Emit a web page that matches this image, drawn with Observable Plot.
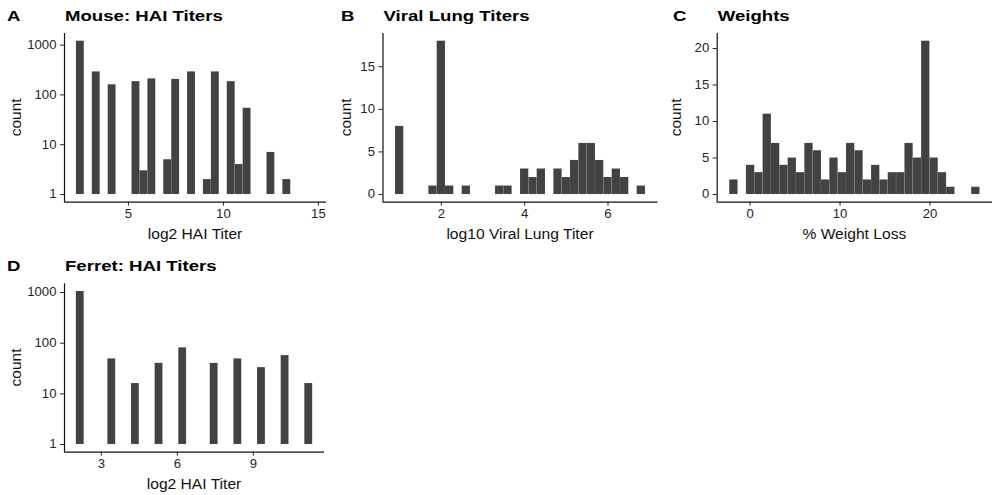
<!DOCTYPE html>
<html>
<head>
<meta charset="utf-8">
<script src="https://cdn.jsdelivr.net/npm/d3@7"></script>
<script src="https://cdn.jsdelivr.net/npm/@observablehq/plot@0.6"></script>
<style>
  body { margin: 0; background: #fff; }
  #fig { position: relative; width: 997px; height: 495px; overflow: hidden;
         font-family: "Liberation Sans", Arial, Helvetica, sans-serif; }
  .panel { position: absolute; }
  #overlay { position: absolute; left: 0; top: 0; pointer-events: none; }
</style>
</head>
<body>
<div id="fig"></div>
<script>
// ---------------- data ----------------
const nBins = 30;

// A: Mouse HAI titers (log2), histogram on a log10 count axis
const mouseBinStart = 2.26;
const mouseBinWidth = 0.418;
const mouseBins   = [0, 2, 4, 7, 8, 9, 11, 12, 14, 16, 17, 19, 20, 21, 24, 26];
const mouseCounts = [1200, 290, 160, 185, 3, 210, 5, 205, 290, 2, 290, 185, 4, 54, 7, 2];
const mouseXTicks = [5, 10, 15];

// B: Viral lung titers (log10)
const lungBinStart = 0.9;
const lungBinWidth = 0.2;
const lungBins   = [0, 4, 5, 6, 8, 12, 13, 15, 16, 17, 19, 20, 21, 22, 23, 24, 25, 26, 27, 29];
const lungCounts = [8, 1, 18, 1, 1, 1, 1, 3, 2, 3, 3, 2, 4, 6, 6, 4, 2, 3, 2, 1];
const lungXTicks = [2, 4, 6];
const lungYTicks = [0, 5, 10, 15];

// C: % weight loss
const weightBinStart = -2.259;
const weightBinWidth = 0.927;
const weightBins   = d3.range(30);
const weightCounts = [2, 0, 4, 3, 11, 7, 4, 5, 3, 7, 6, 2, 5, 3, 7, 6, 2, 4, 2, 3, 3, 7, 5, 21, 5, 3, 1, 0, 0, 1];
const weightXTicks = [0, 10, 20];
const weightYTicks = [0, 5, 10, 15, 20];

// D: Ferret HAI titers (log2), log10 count axis
const ferretBinStart = 2.013;
const ferretBinWidth = 0.311;
const ferretBins   = [0, 4, 7, 10, 13, 17, 20, 23, 26, 29];
const ferretCounts = [1050, 49, 16, 40, 81, 40, 49, 33, 57, 16];
const ferretXTicks = [3, 6, 9];

const logYTicks = [1, 10, 100, 1000];

const panelLetters = ["A", "B", "C", "D"];
const panelTitles  = ["Mouse: HAI Titers", "Viral Lung Titers", "Weights", "Ferret: HAI Titers"];
const xTitles      = ["log2 HAI Titer", "log10 Viral Lung Titer", "% Weight Loss", "log2 HAI Titer"];
const yTitle       = "count";

// ---------------- layout ----------------
const FONT = '"Liberation Sans", Arial, Helvetica, sans-serif';
const SX_TITLE = 1.2;      // horizontal stretch of the reference's lettering
const SX_TICK = 1.08;
const barFill = "#424242";
const inkColor = "#262626";

const boxes = [
  {ox: 0,   oy: 0,   w: 330, h: 250, fx0: 64,    fx1: 326,   fy0: 33,   fy1: 201.7},
  {ox: 330, oy: 0,   w: 330, h: 250, fx0: 382.5, fx1: 657.5, fy0: 33,   fy1: 201.7},
  {ox: 660, oy: 0,   w: 337, h: 250, fx0: 716.7, fx1: 992,   fy0: 33,   fy1: 201.7},
  {ox: 0,   oy: 250, w: 330, h: 245, fx0: 64,    fx1: 324,   fy0: 283.3, fy1: 451.7}
];

const panels = [
  {bins: mouseBins,  counts: mouseCounts,  start: mouseBinStart,  bw: mouseBinWidth,  log: true,  xTicks: mouseXTicks,  yTicks: logYTicks},
  {bins: lungBins,   counts: lungCounts,   start: lungBinStart,   bw: lungBinWidth,   log: false, xTicks: lungXTicks,   yTicks: lungYTicks},
  {bins: weightBins, counts: weightCounts, start: weightBinStart, bw: weightBinWidth, log: false, xTicks: weightXTicks, yTicks: weightYTicks},
  {bins: ferretBins, counts: ferretCounts, start: ferretBinStart, bw: ferretBinWidth, log: true,  xTicks: ferretXTicks, yTicks: logYTicks}
];

const fig = document.getElementById("fig");

function histPanel(p, box) {
  const data = p.bins.map((b, i) => ({
    x1: p.start + b * p.bw,
    x2: p.start + (b + 1) * p.bw,
    count: p.counts[i]
  })).filter(d => d.count > 0);
  const xlo = p.start, xhi = p.start + nBins * p.bw, xpad = 0.05 * (xhi - xlo);
  const xDomain = [xlo - xpad, xhi + xpad];
  const maxC = d3.max(p.counts);
  const base = p.log ? 1 : 0;
  const yDomain = p.log ? [Math.pow(maxC, -0.05), Math.pow(maxC, 1.05)] : [-0.05 * maxC, 1.05 * maxC];

  return Plot.plot({
    width: box.w,
    height: box.h,
    marginLeft: box.fx0 - box.ox,
    marginRight: box.ox + box.w - box.fx1,
    marginTop: box.fy0 - box.oy,
    marginBottom: box.oy + box.h - box.fy1,
    x: {domain: xDomain},
    y: {type: p.log ? "log" : "linear", domain: yDomain},
    style: {fontFamily: FONT, fontSize: "12.2px", color: inkColor, background: "transparent", overflow: "visible"},
    marks: [
      Plot.rect(data, {x1: "x1", x2: "x2", y1: () => base, y2: "count",
                       fill: barFill, stroke: "#ffffff", strokeOpacity: 0.15, strokeWidth: 0.5}),
      Plot.axisX({ticks: p.xTicks, tickSize: 4, tickPadding: 3.5, label: null, tickFormat: d => String(d)}),
      Plot.axisY({ticks: p.yTicks, tickSize: 4, tickPadding: 4, label: null, tickFormat: d => String(d)}),
      Plot.ruleY([yDomain[0]], {stroke: "#111", strokeWidth: 1.2}),
      Plot.ruleX([xDomain[0]], {stroke: "#111", strokeWidth: 1.2})
    ]
  });
}

function stretch(el, sx) {
  const L = el.getComputedTextLength();
  if (L > 0) {
    el.setAttribute("textLength", (L * sx).toFixed(2));
    el.setAttribute("lengthAdjust", "spacingAndGlyphs");
  }
}

panels.forEach((p, i) => {
  const box = boxes[i];
  const holder = document.createElement("div");
  holder.className = "panel";
  holder.style.left = box.ox + "px";
  holder.style.top = box.oy + "px";
  const svg = histPanel(p, box);
  holder.appendChild(svg);
  fig.appendChild(holder);
  svg.querySelectorAll("text").forEach(t => stretch(t, SX_TICK));
});

// ---------------- titles & axis titles ----------------
const overlay = d3.select(fig).append("svg")
  .attr("id", "overlay")
  .attr("width", 997).attr("height", 495)
  .style("font-family", FONT);

const letterX = [7, 341, 673, 7];
boxes.forEach((box, i) => {
  const ty = box.oy + 21;
  const l = overlay.append("text").attr("x", letterX[i]).attr("y", ty)
    .attr("font-size", 15.5).attr("font-weight", "bold").attr("fill", "#000").text(panelLetters[i]);
  const t = overlay.append("text").attr("x", box.fx0 + 1).attr("y", ty)
    .attr("font-size", 15.5).attr("font-weight", "bold").attr("fill", "#000").text(panelTitles[i]);
  stretch(l.node(), SX_TITLE);
  stretch(t.node(), SX_TITLE);

  const xt = overlay.append("text")
    .attr("x", (box.fx0 + box.fx1) / 2).attr("y", box.fy1 + 37.5)
    .attr("text-anchor", "middle").attr("font-size", 15.3).attr("fill", "#111").text(xTitles[i]);
  stretch(xt.node(), 1.02);

  const yx = [20.7, 350.7, 680.7, 20.7][i];
  overlay.append("text")
    .attr("transform", `translate(${yx},${(box.fy0 + box.fy1) / 2}) rotate(-90)`)
    .attr("text-anchor", "middle").attr("font-size", 15.5).attr("fill", "#111").text(yTitle);
});
</script>
</body>
</html>
